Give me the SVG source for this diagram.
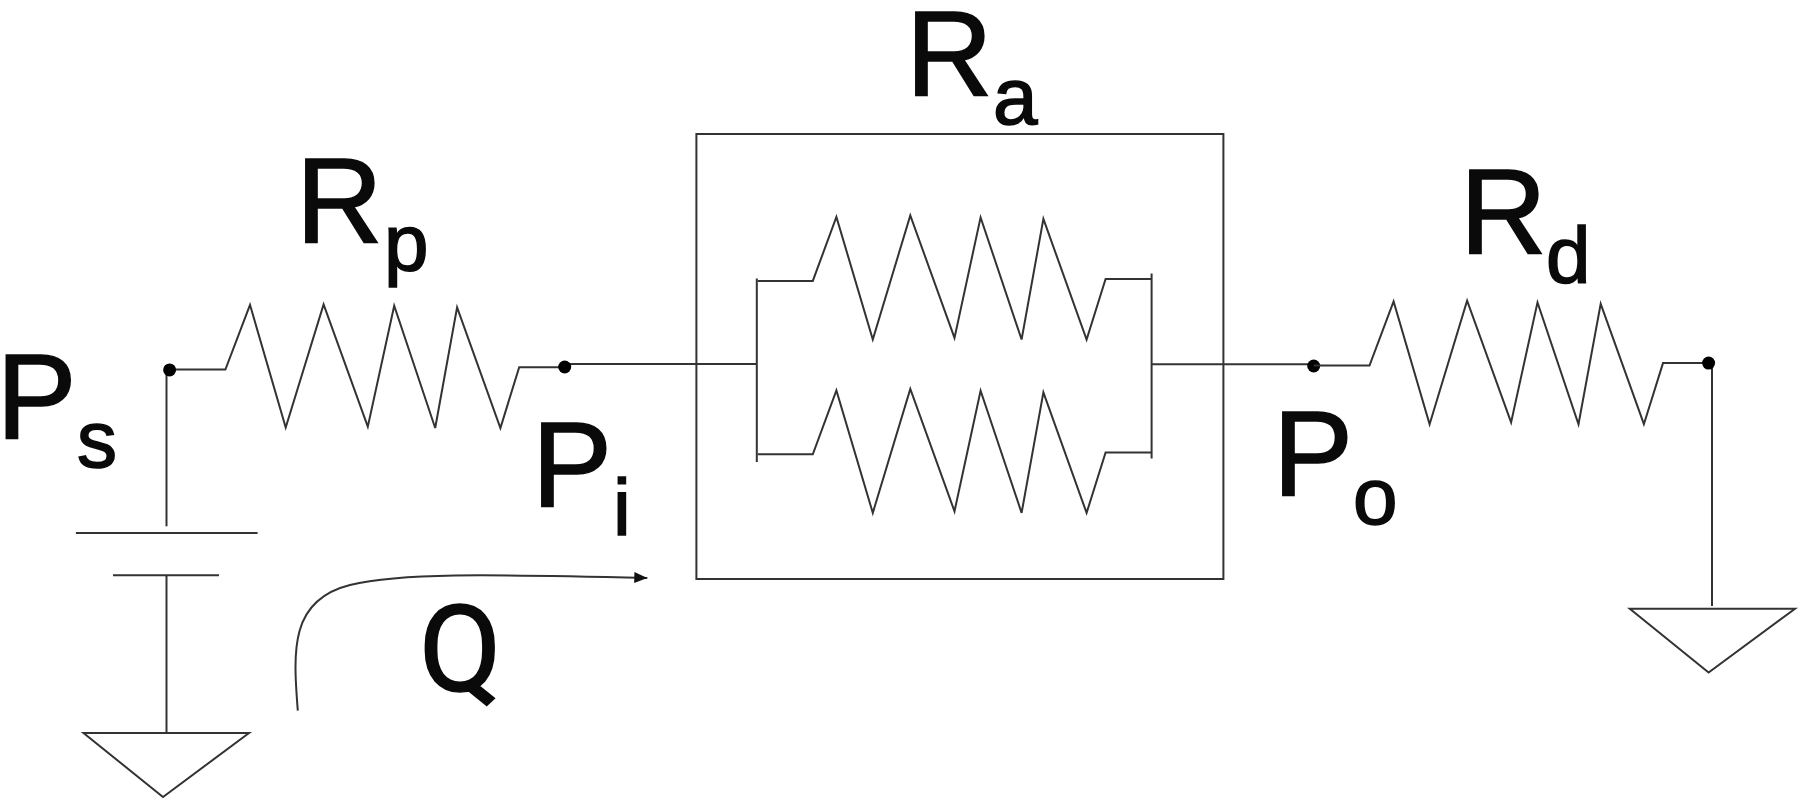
<svg xmlns="http://www.w3.org/2000/svg" width="1800" height="805" viewBox="0 0 1800 805">
<style>
.w{fill:none;stroke:#333;stroke-width:2;stroke-linejoin:miter}
.d{fill:#000}
text{font-family:"Liberation Sans",Arial,sans-serif;fill:#0a0a0a;stroke:#0a0a0a;stroke-width:1.6}
.b{font-size:120px}
.s{font-size:80px}
.q{font-family:Roboto,"Liberation Sans",sans-serif}
</style>
<defs>
<marker id="arrow" markerUnits="userSpaceOnUse" markerWidth="14" markerHeight="12" refX="13" refY="5.5" orient="auto"><path d="M0 0L13 5.5L0 11Z" fill="#111"/></marker>
<polyline id="zig" class="w" points="757.8,280.9 812.8,280.9 836.4,217 872.8,339.5 910.3,215.5 954.5,337.9 980.6,217.4 1021.6,339.5 1043.4,218.9 1086.6,339.5 1105.6,279 1151.6,279"/>
</defs>
<rect width="1800" height="805" fill="#fff"/>
<g id="connectors">
<path class="w" d="M166.5 369.9V526.3"/>
<path class="w" d="M166.5 575.3V733"/>
<path class="w" d="M564.7 364H756.8"/>
<path class="w" d="M1151.6 364.2H1313.7"/>
<path class="w" d="M1712 363V606"/>
<path class="w" marker-end="url(#arrow)" d="M297.8 710.7C293 650 290 600 350 585C400 573 480 574 647.3 577.9"/>
</g>
<g id="Rp"><polyline class="w" points="169.6,369.5 225.4,369.5 250,304.8 285.7,427.6 323.6,304.4 367.8,426.7 394.2,305.7 435.2,428 457.1,307.4 500.4,428 519.2,367.3 564.7,367.3"/>
<text class="b" x="296" y="243">R</text><text class="s" x="384" y="270">p</text></g>
<g id="Ps"><circle class="d" cx="169.6" cy="369.9" r="6.5"/>
<text class="b" x="-3.6" y="438">P</text><text class="s" x="77" y="467">s</text></g>
<g id="Pi"><circle class="d" cx="564.7" cy="367" r="6.5"/>
<text class="b" x="532" y="506">P</text><text class="s" x="613" y="535">i</text></g>
<g id="battery"><path class="w" d="M75.9 532.9H257.6M113 575.3H219"/></g>
<g id="ground1"><path class="w" d="M83.5 733H249L163 797Z"/></g>
<g id="Q"><text class="b q" x="419" y="691">Q</text></g>
<g id="Ra"><rect class="w" x="696.4" y="134" width="527" height="445"/>
<path class="w" d="M756.8 278.6V462M1151.6 273.6V458.5"/>
<use href="#zig"/><use href="#zig" y="173.4"/>
<text class="b" x="906" y="96">R</text><text class="s" x="993" y="124">a</text></g>
<g id="Po"><circle class="d" cx="1313.7" cy="366" r="6.5"/>
<text class="b" x="1273" y="494.5">P</text><text class="s" x="1353" y="524">o</text></g>
<g id="Rd"><polyline class="w" points="1313.7,365.6 1369.5,365.6 1393.6,301.4 1429.6,424.2 1467.1,300.7 1511.1,422.4 1537.5,302.4 1578.5,424.2 1600.7,303.9 1643.9,424.2 1663,363.1 1708.6,363.1"/>
<circle class="d" cx="1708.6" cy="363.1" r="6.5"/>
<text class="b" x="1460" y="253.5">R</text><text class="s" x="1546" y="283">d</text></g>
<g id="ground2"><path class="w" d="M1629.8 608.7H1795L1708.6 672.6Z"/></g>
</svg>
